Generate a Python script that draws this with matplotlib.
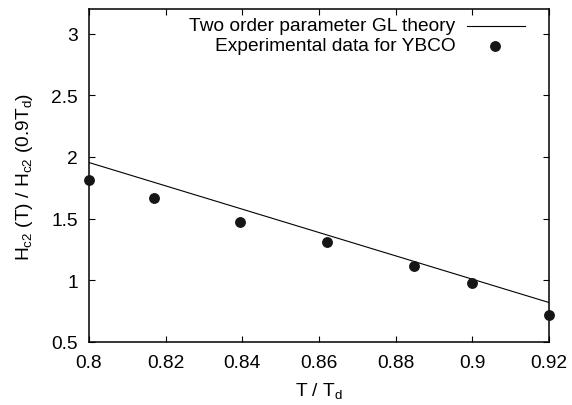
import matplotlib
matplotlib.use("Agg")
import matplotlib.pyplot as plt
from matplotlib.lines import Line2D

plt.rcParams['font.family'] = ['Liberation Sans', 'DejaVu Sans']
plt.rcParams['mathtext.fontset'] = 'custom'
plt.rcParams['mathtext.rm'] = 'Liberation Sans'
plt.rcParams['mathtext.it'] = 'Liberation Sans'
plt.rcParams['mathtext.default'] = 'regular'

# GL theory curve (two order parameters)
theory_t = [0.80, 0.92]
theory_h = [1.955, 0.82]

# measured YBCO points
exp_t = [0.800, 0.817, 0.8394, 0.8621, 0.8849, 0.900, 0.920]
exp_h = [1.81, 1.67, 1.47, 1.31, 1.115, 0.98, 0.715]

xticks = [0.8, 0.82, 0.84, 0.86, 0.88, 0.9, 0.92]
xtick_labels = ["0.8", "0.82", "0.84", "0.86", "0.88", "0.9", "0.92"]
yticks = [0.5, 1, 1.5, 2, 2.5, 3]
ytick_labels = ["0.5", "1", "1.5", "2", "2.5", "3"]

FS = 13.8


def main():
    fig = plt.figure(figsize=(5.72, 4.06), dpi=100)
    ax = fig.add_axes([0.1556, 0.1552, 0.8042, 0.8202])

    ax.plot(theory_t, theory_h, color="black", lw=0.8)
    ax.plot(exp_t, exp_h, "o", color="#161616", ms=6.8, clip_on=False, zorder=5)

    ax.set_xlim(0.8, 0.92)
    ax.set_ylim(0.5, 3.2)
    ax.set_xticks(xticks, xtick_labels)
    ax.set_yticks(yticks, ytick_labels)
    ax.tick_params(direction="in", length=4.5, width=0.8, top=True, right=True,
                   labelsize=FS)
    ax.tick_params(axis="x", pad=9)
    ax.tick_params(axis="y", pad=8)
    for s in ax.spines.values():
        s.set_linewidth(1.1)

    ax.set_xlabel("T / T$_d$", fontsize=FS, labelpad=6)
    ax.set_ylabel("H$_{c2}$ (T) / H$_{c2}$ (0.9T$_d$)", fontsize=FS, labelpad=12)

    # gnuplot-style key: right-justified text followed by sample
    tr = ax.transAxes
    ax.text(0.796, 0.949, "Two order parameter GL theory", transform=tr,
            ha="right", va="center", fontsize=FS)
    ax.text(0.796, 0.889, "Experimental data for YBCO", transform=tr,
            ha="right", va="center", fontsize=FS)
    ax.add_line(Line2D([0.822, 0.948], [0.949, 0.949], transform=tr,
                       color="black", lw=0.8))
    ax.add_line(Line2D([0.8836], [0.889], transform=tr, marker="o",
                       color="#161616", ms=6.8, ls="none"))

    fig.savefig("out.png", dpi=100)


if __name__ == "__main__":
    main()
